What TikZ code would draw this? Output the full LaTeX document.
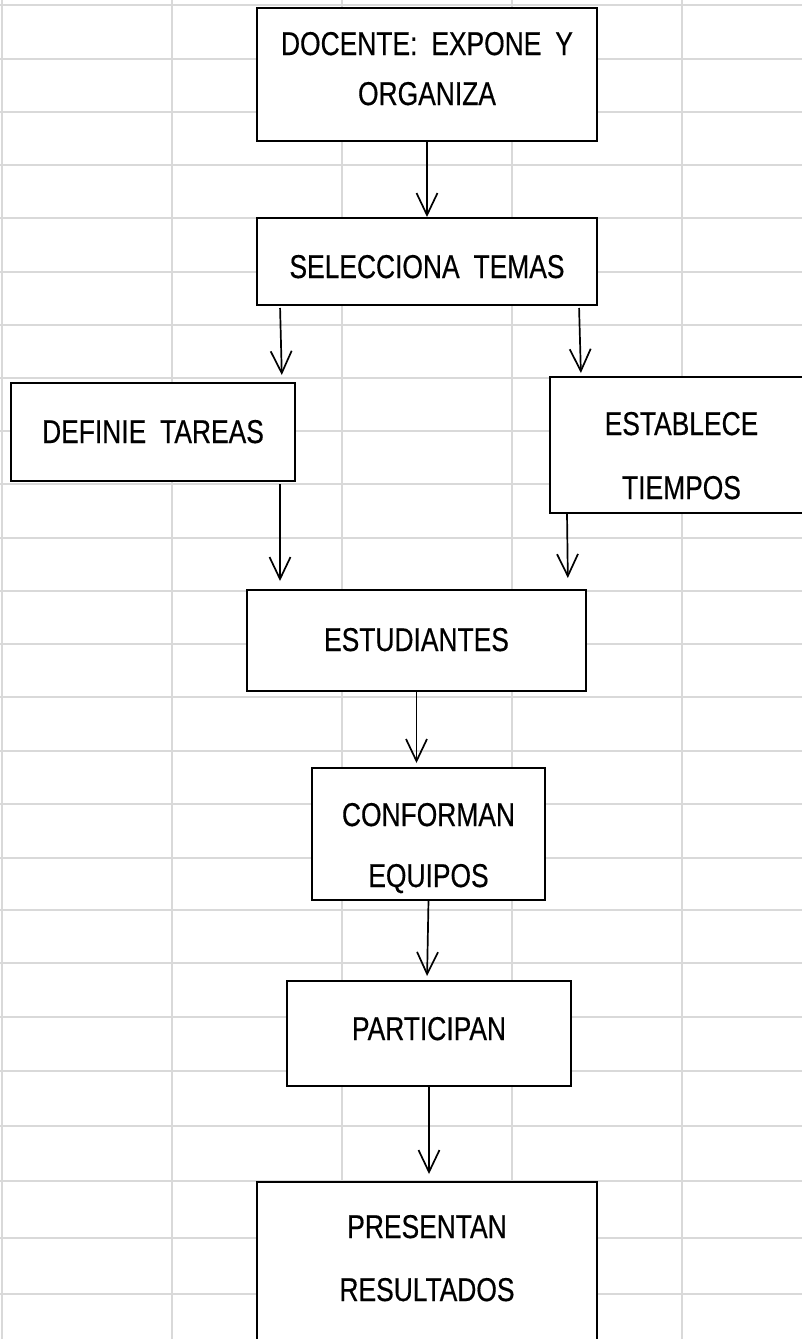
\documentclass[tikz,border=0pt]{standalone}
\usepackage{fontspec}
\setmainfont{Liberation Sans}[FakeStretch=0.8,WordSpace=1.9,FakeBold=0.4]
\usetikzlibrary{arrows.meta}
\definecolor{rejilla}{RGB}{217,217,217}

\begin{document}
\begin{tikzpicture}[
  x=1pt, y=-1pt,
  celda/.style={draw=rejilla, line width=2.4pt},
  paso/.style={draw, fill=white, line width=2pt, anchor=north west, inner sep=0pt, outer sep=0pt, font=\fontsize{33}{50}\selectfont},
  flecha/.style={line width=1.7pt, -{Straight Barb[length=22pt, width=21pt]}}
]
  \useasboundingbox (0,0) rectangle (802,1339);
  \clip (0,0) rectangle (802,1339);
  \fill[white] (0,0) rectangle (802,1339);

  % hoja de calculo
  \foreach \x in {2,172,342,512,682}
    \draw[celda] (\x,0) -- (\x,1339);
  \foreach \y in {5,59,112,165,218,272,325,378,431,484,538,591,644,697,751,804,858,910,963,1017,1071,1126,1181,1238,1294}
    \draw[celda] (0,\y) -- (802,\y);

  \node[paso, minimum width=340pt, text height=47pt, text depth=86pt] (docente) at (257,8) {\begin{tabular}[t]{@{}c@{}}DOCENTE: EXPONE Y\\ORGANIZA\end{tabular}};
  \node[paso, minimum width=340pt, text height=60pt, text depth=27pt] (selecciona) at (257,218) {SELECCIONA TEMAS};
  \node[paso, minimum width=284pt, text height=60pt, text depth=38pt] (definie) at (11,383) {DEFINIE TAREAS};
  \node[paso, minimum width=263pt, text height=58pt, text depth=78pt] (establece) at (550,377) {\begin{tabular}[t]{@{}c@{}}ESTABLECE\\[14pt]TIEMPOS\end{tabular}};
  \node[paso, minimum width=339pt, text height=61pt, text depth=40pt] (estudiantes) at (247,590) {ESTUDIANTES};
  \node[paso, minimum width=233pt, text height=58pt, text depth=74pt] (conforman) at (312,768) {\begin{tabular}[t]{@{}c@{}}CONFORMAN\\[11pt]EQUIPOS\end{tabular}};
  \node[paso, minimum width=284pt, text height=59pt, text depth=46pt] (participan) at (287,981) {PARTICIPAN};
  \node[paso, minimum width=340pt, text height=56pt, text depth=122pt] (presentan) at (257,1182) {\begin{tabular}[t]{@{}c@{}}PRESENTAN\\[13pt]RESULTADOS\end{tabular}};

  \draw[flecha, shorten >=1pt] (docente) -- (selecciona);
  \draw[flecha, shorten <=3pt, shorten >=8pt] ([xshift=23pt]selecciona.south west) -- ([xshift=-13pt]definie.north east);
  \draw[flecha, shorten <=3pt, shorten >=4pt] ([xshift=-18pt]selecciona.south east) -- ([xshift=31pt]establece.north west);
  \draw[flecha, shorten <=3pt, shorten >=9pt] ([xshift=-15pt]definie.south east) -- ([xshift=33pt]estudiantes.north west);
  \draw[flecha, shorten >=12pt] ([xshift=17pt]establece.south west) -- ([xshift=-18pt]estudiantes.north east);
  \draw[flecha, shorten >=5pt] (estudiantes.south) -- (estudiantes.south |- conforman.north);
  \draw[flecha, shorten >=5pt] (conforman.south) -- ([xshift=-2pt]participan.north);
  \draw[flecha, shorten >=8pt] (participan.south) -- (participan.south |- presentan.north);
\end{tikzpicture}
\end{document}
